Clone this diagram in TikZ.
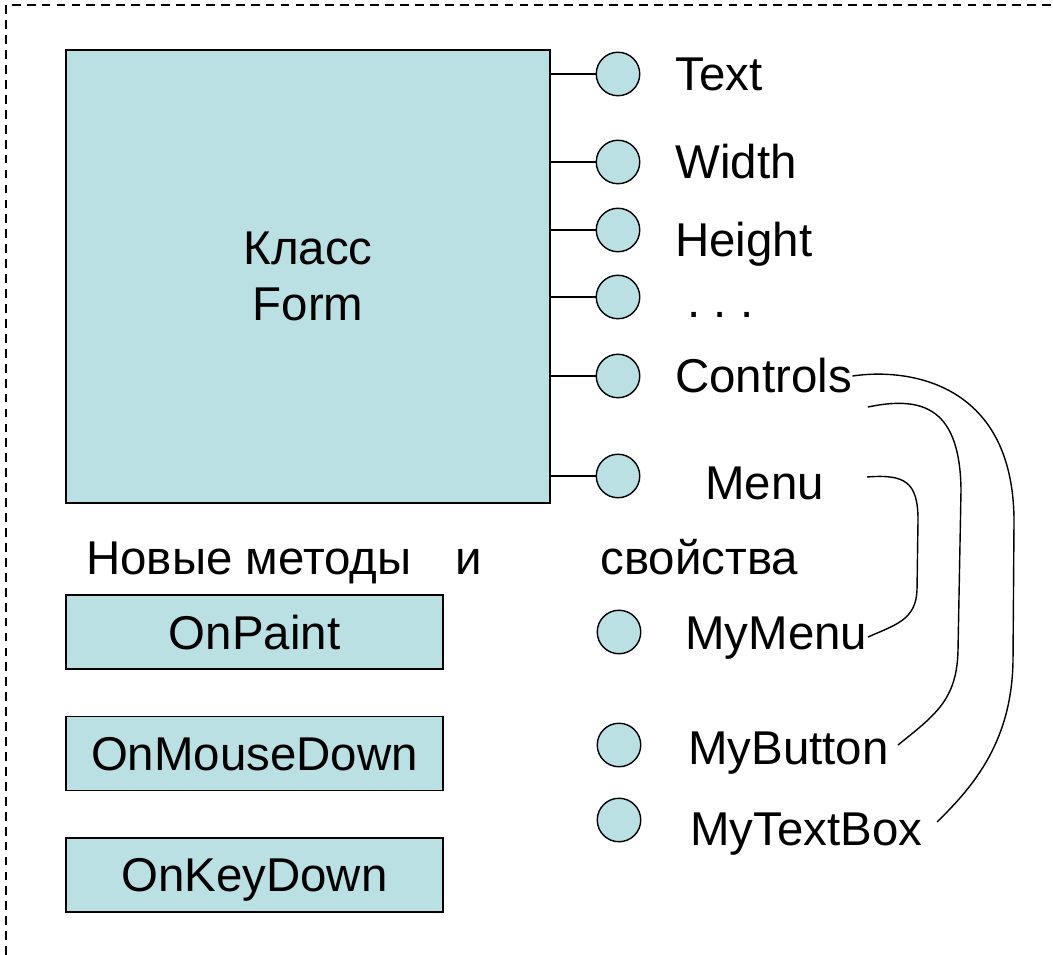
\documentclass[tikz,border=0pt]{standalone}
\usepackage{fontspec}
\setmainfont{Liberation Sans}
\usepackage{tikz}
\definecolor{formfill}{RGB}{187,224,227}
\tikzset{
  formbox/.style={draw, line width=0.8pt, fill=formfill, inner sep=0pt},
  prop/.style={draw, line width=0.8pt, fill=formfill, circle, minimum size=0.87cm, inner sep=0pt},
  lab/.style={anchor=base west, inner sep=0pt},
  link/.style={line width=0.8pt},
}

\begin{document}
\begin{tikzpicture}[x=0.02cm, y=-0.02cm, font=\fontsize{27pt}{31.75pt}\selectfont]
\useasboundingbox (0,0) rectangle (1053,955);

% dashed frame
\draw[line width=1.3pt, dash pattern=on 5pt off 3.5pt] (6,955)--(6,5)--(1053,5);

% class box
\node[formbox, minimum width=9.68cm, minimum height=9.06cm, align=center] (form) at (308,276.5) {Класс\\Form};

% properties on the class
\foreach \y/\nm in {74/text,162/width,230/height,297/dots,376/ctrl,476/menu}
{
  \node[prop] (c-\nm) at (618,\y) {};
  \draw[link] (form.east |- c-\nm) -- (c-\nm);
}

\node[lab] (l-text)   at (675,91)  {Text};
\node[lab] (l-width)  at (675,179) {Width};
\node[lab] (l-height) at (675,257) {Height};
\node[lab] (l-dots)   at (687,318) {.\ .\ .};
\node[lab] (l-ctrl)   at (675,393) {Controls};
\node[lab] (l-menu)   at (705,499) {Menu};

% new members
\node[lab] (new)  at (86,574)  {Новые методы};
\node[lab] (and)  at (455,574) {и};
\node[lab] (prop) at (600,574) {свойства};

\foreach \y/\nm/\lab in {632/paint/OnPaint,753.5/mouse/OnMouseDown,875/key/OnKeyDown}
  \node[formbox, text depth=0pt, minimum width=7.54cm, minimum height=1.48cm] (m-\nm) at (254.5,\y) {\lab};

\foreach \y/\nm in {632/mymenu,745/mybtn,820/mytb}
  \node[prop] (c-\nm) at (619,\y) {};

\node[lab] (l-mymenu) at (685,649) {MyMenu};
\node[lab] (l-mybtn)  at (688,764) {MyButton};
\node[lab] (l-mytb)   at (690,845) {MyTextBox};

% links between the controls
\coordinate (tb-end)   at (937,822);
\coordinate (btn-beg)  at (868,407);
\coordinate (btn-end)  at (898,745);
\coordinate (menu-beg) at (867,477);
\coordinate (menu-end) at (868,637);

\draw[link] (l-ctrl.east) .. controls (905,368) and (1013,380) .. (1014,520)
  -- (1013,660) .. controls (1012,740) and (975,785) .. (tb-end);
\draw[link] (btn-beg) .. controls (925,395) and (960,410) .. (961,490)
  -- (958,650) .. controls (957,700) and (935,715) .. (btn-end);
\draw[link] (menu-beg) .. controls (905,474) and (918,482) .. (918,520)
  -- (917,590) .. controls (916,620) and (895,625) .. (menu-end);
\end{tikzpicture}
\end{document}
